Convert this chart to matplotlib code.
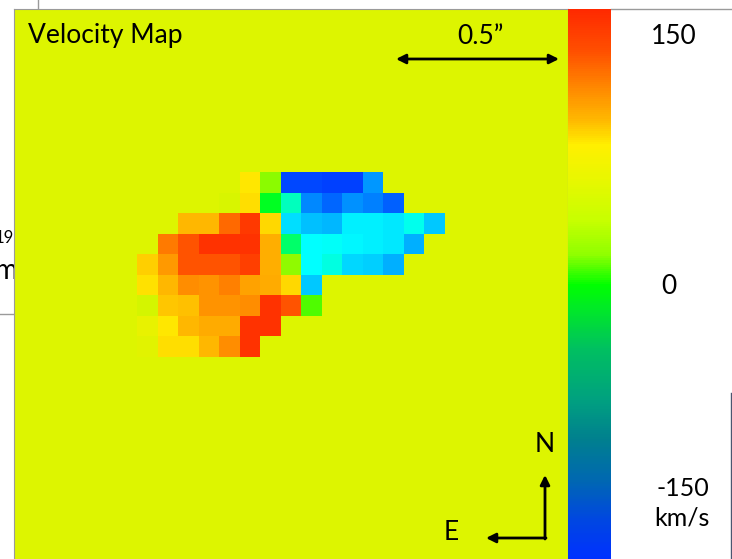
import numpy as np
import matplotlib
matplotlib.use("Agg")
import matplotlib.pyplot as plt
from matplotlib.colors import LinearSegmentedColormap, Normalize
from matplotlib.lines import Line2D

#%% data: line-of-sight velocity (km/s) of the detected pixels
n_grid = 27
row0, col0 = 8, 6
N = np.nan
vel = [
    [N, N, N, N, N, 86, 30, -142, -142, -148, -148, -89, N, N, N],
    [N, N, N, N, 60, 89, -3, -19, -99, -120, -94, -104, -125, N, N],
    [N, N, 106, 106, 138, 158, 92, -49, -65, -70, -41, -41, -45, -29, -61],
    [N, 132, 148, 160, 160, 160, 110, -10, -33, -31, -37, -41, -45, -75, N],
    [96, 119, 148, 148, 148, 155, 110, 31, -33, -27, -53, -57, -75, N, N],
    [88, 106, 125, 122, 129, 115, 112, 92, -61, N, N, N, N, N, N],
    [58, 100, 102, 122, 122, 125, 160, 148, 18, N, N, N, N, N, N],
    [69, 86, 106, 112, 112, 160, 160, N, N, N, N, N, N, N, N],
    [65, 89, 89, 106, 125, 160, N, N, N, N, N, N, N, N, N],
]
vmin, vmax = -165, 165
cbar_labels = ["150", "0", "-150"]

#%% colour maps
map_cmap = LinearSegmentedColormap.from_list("vmap", [
    (0.00, (0.0, 0.16, 1.0)),
    (0.15, (0.0, 0.43, 1.0)),
    (0.30, (0.0, 0.75, 1.0)),
    (0.40, (0.0, 1.0, 1.0)),
    (0.45, (0.0, 1.0, 0.70)),
    (0.50, (0.0, 1.0, 0.0)),
    (0.62, (0.71, 0.98, 0.0)),
    (0.75, (1.0, 0.94, 0.0)),
    (0.88, (1.0, 0.55, 0.0)),
    (1.00, (1.0, 0.16, 0.0)),
])
map_cmap.set_bad("#ddf500")

bar_cmap = LinearSegmentedColormap.from_list("vbar", [
    (0.000, (0.0, 0.19, 1.0)),
    (0.071, (0.0, 0.28, 0.88)),
    (0.144, (0.0, 0.41, 0.69)),
    (0.216, (0.0, 0.50, 0.56)),
    (0.289, (0.0, 0.63, 0.50)),
    (0.380, (0.0, 0.75, 0.38)),
    (0.453, (0.0, 0.91, 0.16)),
    (0.498, (0.0, 1.0, 0.0)),
    (0.553, (0.56, 1.0, 0.0)),
    (0.616, (0.78, 1.0, 0.0)),
    (0.690, (0.91, 0.97, 0.0)),
    (0.753, (1.0, 0.94, 0.0)),
    (0.800, (1.0, 0.72, 0.0)),
    (0.853, (1.0, 0.55, 0.0)),
    (0.925, (1.0, 0.31, 0.0)),
    (1.000, (1.0, 0.16, 0.0)),
])

#%% figure
W, H = 732, 559
fig = plt.figure(figsize=(W / 100, H / 100), dpi=100)
fig.patch.set_facecolor("white")
font = "Lato"


def fx(x):
    return x / W


def fy(y):
    return 1 - y / H


# velocity map
cell = 20.5
ax = fig.add_axes([fx(14), fy(9 + n_grid * cell), n_grid * cell / W, n_grid * cell / H])
grid = np.full((n_grid, n_grid), np.nan)
block = np.array(vel, dtype=float)
grid[row0:row0 + block.shape[0], col0:col0 + block.shape[1]] = block
ax.imshow(np.ma.masked_invalid(grid), cmap=map_cmap, vmin=vmin, vmax=vmax,
          interpolation="nearest", extent=(0, n_grid, n_grid, 0), aspect="auto")
ax.set_xticks([])
ax.set_yticks([])
for s in ax.spines.values():
    s.set_color("#9a9a9a")
    s.set_linewidth(0.8)

ax.text(fx(28), fy(36), "Velocity Map", transform=fig.transFigure,
        fontsize=19, family=font, va="center", ha="left")
ax.text(fx(480), fy(36), "0.5\u201d", transform=fig.transFigure,
        fontsize=19, family=font, va="center", ha="center")
ax.annotate("", xy=(fx(559), fy(59)), xytext=(fx(396), fy(59)),
            xycoords="figure fraction", textcoords="figure fraction",
            arrowprops=dict(arrowstyle="<|-|>", color="black", lw=2,
                            mutation_scale=14, shrinkA=0, shrinkB=0))

# compass
ax.text(fx(545), fy(444), "N", transform=fig.transFigure,
        fontsize=19, family=font, va="center", ha="center")
ax.text(fx(451), fy(533), "E", transform=fig.transFigure,
        fontsize=19, family=font, va="center", ha="center")
ax.annotate("", xy=(fx(545), fy(475)), xytext=(fx(545), fy(539)),
            xycoords="figure fraction", textcoords="figure fraction",
            arrowprops=dict(arrowstyle="-|>", color="black", lw=2,
                            mutation_scale=14, shrinkA=0, shrinkB=0))
ax.annotate("", xy=(fx(486), fy(538)), xytext=(fx(546), fy(538)),
            xycoords="figure fraction", textcoords="figure fraction",
            arrowprops=dict(arrowstyle="-|>", color="black", lw=2,
                            mutation_scale=14, shrinkA=0, shrinkB=0))

# colour bar
cax = fig.add_axes([fx(568), 0, 43 / W, 550 / H])
sm = plt.cm.ScalarMappable(norm=Normalize(vmin, vmax), cmap=bar_cmap)
cb = fig.colorbar(sm, cax=cax)
cb.set_ticks([])
cb.outline.set_visible(False)

fig.text(fx(674), fy(37), cbar_labels[0], fontsize=19, family=font, ha="center", va="center")
fig.text(fx(669), fy(286), cbar_labels[1], fontsize=19, family=font, ha="center", va="center")
fig.text(fx(683), fy(489), cbar_labels[2], fontsize=18, family=font, ha="center", va="center")
fig.text(fx(682), fy(518), "km/s", fontsize=18, family=font, ha="center", va="center")

# bits of the surrounding slide, partly hidden behind the map as in the original
fig.text(fx(14), fy(238), "19", fontsize=12, family=font, ha="right", va="center", zorder=-1)
fig.text(fx(18), fy(271), "m", fontsize=20, family=font, ha="right", va="center", zorder=-1)
for xs, ys, c in [((0, 14), (314, 314), "#9a9a9a"),
                  ((38, 38), (0, 9), "#9a9a9a"),
                  ((611, 732), (9, 9), "#9a9a9a"),
                  ((731, 731), (393, 559), "#4a5670")]:
    fig.add_artist(Line2D([fx(v) for v in xs], [fy(v) for v in ys], color=c, lw=1, zorder=-1))

fig.savefig("out.png", dpi=100)
